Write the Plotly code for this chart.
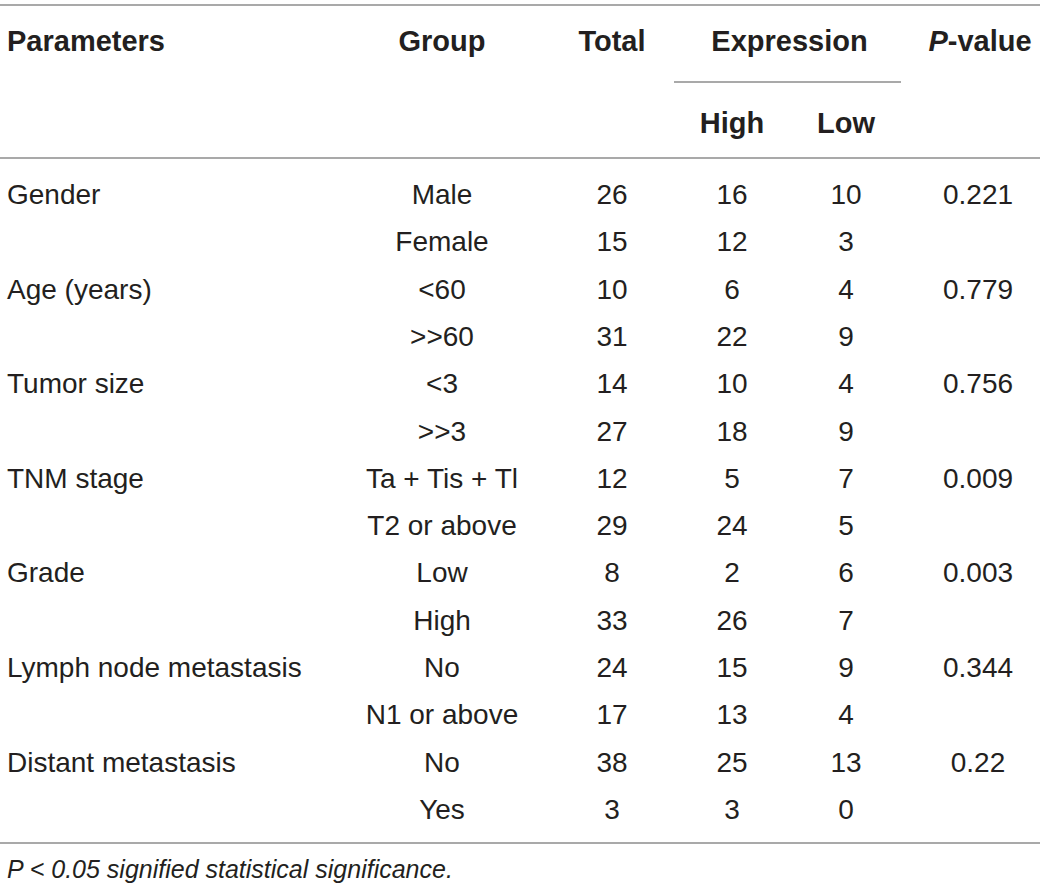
import plotly.graph_objects as go

# table content
parameters = ["Gender", "", "Age (years)", "", "Tumor size", "", "TNM stage", "",
              "Grade", "", "Lymph node metastasis", "", "Distant metastasis", ""]
groups = ["Male", "Female", "<60", ">>60", "<3", ">>3", "Ta + Tis + Tl", "T2 or above",
          "Low", "High", "No", "N1 or above", "No", "Yes"]
total = [26, 15, 10, 31, 14, 27, 12, 29, 8, 33, 24, 17, 38, 3]
expr_high = [16, 12, 6, 22, 10, 18, 5, 24, 2, 26, 15, 13, 25, 3]
expr_low = [10, 3, 4, 9, 4, 9, 7, 5, 6, 7, 9, 4, 13, 0]
p_values = ["0.221", "", "0.779", "", "0.756", "", "0.009", "", "0.003", "", "0.344", "", "0.22", ""]
footnote = "P < 0.05 signified statistical significance."

# layout in pixel units
W, H = 1040, 893
col_x = {"param": 7, "group": 442, "total": 612, "high": 732, "low": 846, "p": 978}
row_y0, row_dy = 197, 47.3
head1_y, head2_y = 44, 126
line_col = "#8c8c8c"
txt_col = "#231f20"
font_body = "Liberation Sans, Arial, sans-serif"
fs = 28
fs_head = 29
fs_note = 25

row_y = [row_y0 + i * row_dy for i in range(len(groups))]

fig = go.Figure()


def add_col(x, texts, ys, pos="middle center", bold=False, size=fs):
    fig.add_trace(go.Scatter(
        x=[x] * len(texts), y=ys, mode="text",
        text=[f"<b>{t}</b>" if bold and t else str(t) for t in texts],
        textposition=pos,
        textfont=dict(family=font_body, size=size, color=txt_col),
        hoverinfo="skip", showlegend=False, cliponaxis=False))


# header
add_col(col_x["param"], ["Parameters"], [head1_y], "middle right", True, fs_head)
add_col(col_x["group"], ["Group"], [head1_y], bold=True, size=fs_head)
add_col(col_x["total"], ["Total"], [head1_y], bold=True, size=fs_head)
add_col((col_x["high"] + col_x["low"]) / 2 + 0.5, ["Expression"], [head1_y], bold=True, size=fs_head)
add_col(col_x["p"] + 2, ["<i>P</i>-value"], [head1_y], bold=True, size=fs_head)
add_col(col_x["high"], ["High"], [head2_y], bold=True, size=fs_head)
add_col(col_x["low"], ["Low"], [head2_y], bold=True, size=fs_head)

# body
add_col(col_x["param"], parameters, row_y, "middle right")
add_col(col_x["group"], groups, row_y)
add_col(col_x["total"], total, row_y)
add_col(col_x["high"], expr_high, row_y)
add_col(col_x["low"], expr_low, row_y)
add_col(col_x["p"], p_values, row_y)

# footnote
add_col(col_x["param"], [f"<i>{footnote}</i>"], [872], "middle right", size=fs_note)

# rules
for y0, xa, xb in [(5, 0, W), (158, 0, W), (843, 0, W), (82, 674, 901)]:
    fig.add_shape(type="line", x0=xa, x1=xb, y0=y0, y1=y0,
                  line=dict(color=line_col, width=1.5))

fig.update_xaxes(range=[0, W], visible=False, fixedrange=True)
fig.update_yaxes(range=[H, 0], visible=False, fixedrange=True)
fig.update_layout(width=W, height=H, margin=dict(l=0, r=0, t=0, b=0),
                  plot_bgcolor="white", paper_bgcolor="white")

# drop the default page margin so the figure sits at the window corner
fig.write_html("out.html", config={"displayModeBar": False},
               post_script="document.body.style.margin='0';")
